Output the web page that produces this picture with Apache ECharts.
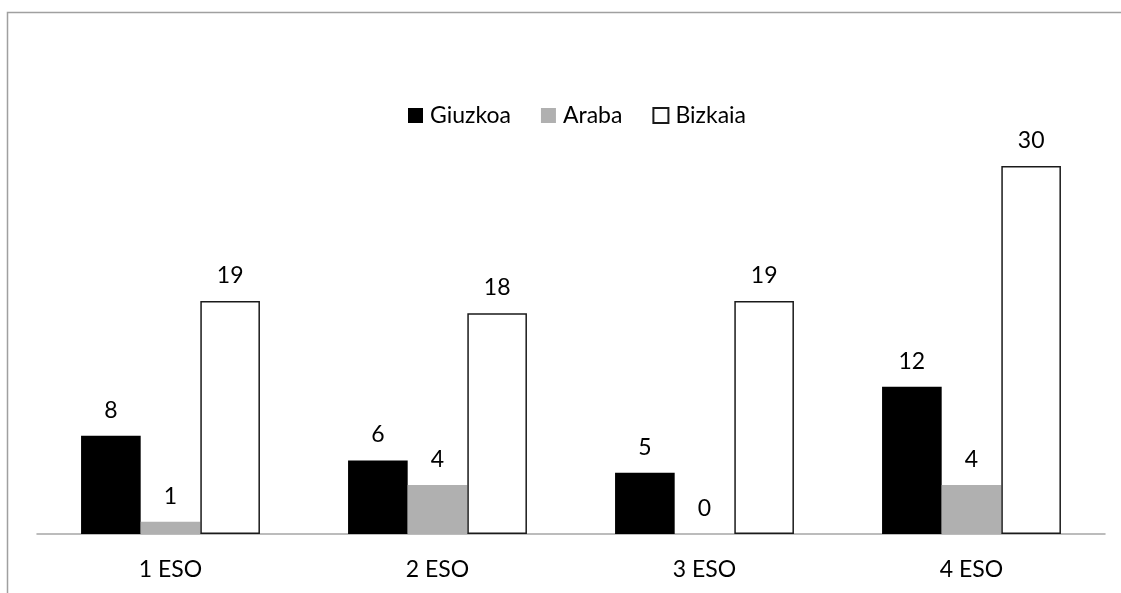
<!DOCTYPE html>
<html>
<head>
<meta charset="utf-8">
<script src="https://cdn.jsdelivr.net/npm/echarts@6/dist/echarts.min.js"></script>
<style>
  html, body { margin: 0; padding: 0; background: #fff; }
  #chart { width: 1121px; height: 593px; }
</style>
</head>
<body>
<div id="chart"></div>
<script>
    var categories = ['1 ESO', '2 ESO', '3 ESO', '4 ESO'];
    var giuzkoa = [8, 6, 5, 12];
    var araba = [1, 4, 0, 4];
    var bizkaia = [19, 18, 19, 30];

    var font = 'Lato, Carlito, Calibri, sans-serif';

    var chart = echarts.init(document.getElementById('chart'));

    var labelStyle = {
        show: true,
        position: 'top',
        distance: 14,
        color: '#000',
        fontSize: 23,
        fontFamily: font
    };

    var option = {
        animation: false,
        // marco gris del gráfico
        graphic: [
            {
                type: 'polyline',
                shape: { points: [[7.5, 600], [7.5, 12.5], [1130, 12.5]] },
                style: { stroke: '#a0a0a0', lineWidth: 1.5, fill: null }
            }
        ],
        legend: {
            top: 99,
            left: 403,
            icon: 'rect',
            itemWidth: 15,
            itemHeight: 15,
            itemGap: 30,
            textStyle: { fontSize: 23, fontFamily: font, color: '#000', padding: [0, 0, 0, 2] },
            data: ['Giuzkoa', 'Araba', 'Bizkaia']
        },
        grid: {
            left: 37,
            right: 16,
            top: 166,
            bottom: 59,
            containLabel: false
        },
        xAxis: {
            type: 'category',
            data: categories,
            axisLine: { lineStyle: { color: '#a6a6a6', width: 1.5 } },
            axisTick: { show: false },
            axisLabel: {
                color: '#000',
                fontSize: 23,
                fontFamily: font,
                margin: 24
            }
        },
        yAxis: {
            type: 'value',
            min: 0,
            max: 30,
            show: false,
            splitLine: { show: false }
        },
        series: [
            {
                name: 'Giuzkoa',
                type: 'bar',
                barGap: '0%',
                barCategoryGap: '33%',
                itemStyle: { color: '#000' },
                label: labelStyle,
                data: giuzkoa
            },
            {
                name: 'Araba',
                type: 'bar',
                itemStyle: { color: '#b0b0b0' },
                label: labelStyle,
                data: araba
            },
            {
                name: 'Bizkaia',
                type: 'bar',
                itemStyle: { color: '#fff', borderColor: '#1a1a1a', borderWidth: 1.5 },
                label: labelStyle,
                data: bizkaia
            }
        ]
    };

    chart.setOption(option);
</script>
</body>
</html>
